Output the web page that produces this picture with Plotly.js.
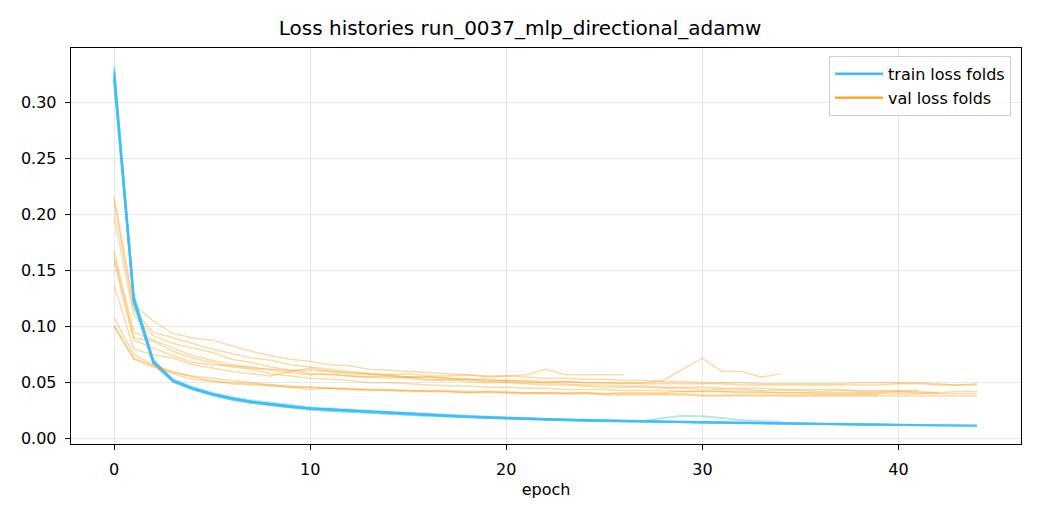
<!DOCTYPE html>
<html>
<head>
<meta charset="utf-8">
<script src="https://cdn.plot.ly/plotly-3.0.1.min.js"></script>
<style>
  html, body { margin: 0; padding: 0; background: #fff; }
  #chart { width: 1040px; height: 520px; }
</style>
</head>
<body>
<div id="chart"></div>
<script>
// train loss per fold (index = epoch)
const trainFold0 = [0.333, 0.128, 0.070, 0.053, 0.046, 0.041, 0.037, 0.034, 0.032, 0.030, 0.028, 0.027, 0.026, 0.025, 0.024, 0.023, 0.022, 0.021, 0.0205, 0.0197, 0.0188, 0.0182, 0.0177, 0.0172, 0.0168, 0.0164, 0.0161, 0.0157, 0.0154, 0.0151, 0.0148, 0.0145, 0.0142, 0.0140, 0.0138, 0.0135, 0.0133, 0.0131, 0.0129, 0.0127, 0.0125, 0.0123, 0.0121, 0.0119, 0.0117];
const trainFold1 = [0.322, 0.124, 0.068, 0.051, 0.044, 0.039, 0.035, 0.032, 0.030, 0.028, 0.027, 0.026, 0.025, 0.024, 0.023, 0.022, 0.021, 0.020, 0.0194, 0.0187, 0.018, 0.0175, 0.017, 0.0166, 0.0162, 0.0158, 0.0155, 0.0152, 0.0149, 0.0146, 0.0143, 0.0141, 0.0138, 0.0136, 0.0134, 0.0132, 0.013, 0.0128, 0.0126, 0.0124, 0.0122, 0.012];
const trainFold2 = [0.328, 0.126, 0.069, 0.052, 0.045, 0.040, 0.036, 0.033, 0.031, 0.029, 0.027, 0.026, 0.025, 0.024, 0.023, 0.022, 0.0215, 0.0207, 0.0199, 0.0192, 0.0185, 0.0179, 0.0174, 0.017, 0.0166, 0.0162, 0.0158, 0.0155, 0.0152, 0.0149, 0.0146, 0.0143, 0.0141, 0.0139, 0.0136, 0.0134, 0.0132, 0.013, 0.0128, 0.0126, 0.0124, 0.0122, 0.012, 0.0118, 0.0116];
const trainFold3 = [0.319, 0.121, 0.067, 0.051, 0.044, 0.039, 0.035, 0.032, 0.030, 0.028, 0.026, 0.025, 0.024, 0.023, 0.022, 0.021, 0.0204, 0.0197, 0.019, 0.0184, 0.0178, 0.0173, 0.0168, 0.0164, 0.016, 0.0157, 0.0154, 0.0158, 0.0185, 0.0205, 0.0200, 0.0185, 0.0165, 0.0155, 0.015];
const trainFold4 = [0.330, 0.127, 0.070, 0.052, 0.045, 0.040, 0.036, 0.033, 0.031, 0.029, 0.027, 0.026, 0.025, 0.024, 0.023, 0.022, 0.021, 0.0203, 0.0196, 0.0189, 0.0182, 0.0176, 0.0171, 0.0167, 0.0163, 0.0159, 0.0156, 0.0153, 0.015, 0.0147, 0.0144, 0.0142, 0.0139, 0.0137, 0.0135, 0.0133, 0.0131, 0.0129, 0.0127, 0.0125, 0.0123, 0.0121, 0.0119, 0.0117, 0.0115];
const trainFold5 = [0.324, 0.125, 0.069, 0.052, 0.045, 0.040, 0.036, 0.033, 0.031, 0.029, 0.027, 0.026, 0.025, 0.024, 0.023, 0.022, 0.0213, 0.0205, 0.0198, 0.0191, 0.0184, 0.0178, 0.0173, 0.0169, 0.0165, 0.0161, 0.0158];
const trainFold6 = [0.326, 0.123, 0.068, 0.052, 0.045, 0.040, 0.036, 0.033, 0.030, 0.028, 0.027, 0.026, 0.025, 0.024, 0.023, 0.022, 0.0212, 0.0204, 0.0196, 0.0189, 0.0183, 0.0177, 0.0172, 0.0168, 0.0163, 0.0159, 0.0156, 0.0153, 0.015, 0.0147, 0.0144, 0.0141, 0.0139, 0.0137, 0.0135, 0.0133, 0.0131, 0.0129, 0.0127, 0.0125, 0.0123, 0.0121, 0.0119, 0.0117, 0.0115];
const trainFold7 = [0.321, 0.122, 0.067, 0.051, 0.044, 0.039, 0.035, 0.032, 0.030, 0.028, 0.026, 0.025, 0.024, 0.023, 0.022, 0.021, 0.0205, 0.0198, 0.0191, 0.0185, 0.0179, 0.0174, 0.0169, 0.0165, 0.0161, 0.0158, 0.0155, 0.0152, 0.0149, 0.0146, 0.0143, 0.0141, 0.0138, 0.0136, 0.0134, 0.0132, 0.013, 0.0128, 0.0126, 0.0124];
const trainFold8 = [0.327, 0.126, 0.069, 0.052, 0.045, 0.040, 0.036, 0.033, 0.031, 0.029, 0.027, 0.026, 0.025, 0.024, 0.023, 0.022, 0.0214, 0.0206, 0.0198, 0.0191, 0.0184, 0.0178, 0.0173, 0.0169, 0.0165, 0.0161, 0.0157, 0.0154, 0.0151, 0.0148, 0.0145, 0.0143, 0.014, 0.0138, 0.0136, 0.0134, 0.0132, 0.013, 0.0128, 0.0126, 0.0124, 0.0122, 0.012, 0.0118, 0.0116];
const trainFold9 = [0.323, 0.124, 0.068, 0.052, 0.045, 0.040, 0.036, 0.033, 0.031, 0.029, 0.027, 0.026, 0.025, 0.024, 0.023, 0.022, 0.0211, 0.0203, 0.0196, 0.0189, 0.0182, 0.0176, 0.0171, 0.0167, 0.0163, 0.0159, 0.0156, 0.0153, 0.015, 0.0147, 0.0144, 0.0142, 0.0139, 0.0137, 0.0135, 0.0133, 0.0131, 0.0129, 0.0127, 0.0125, 0.0123, 0.0121, 0.0119];

// val loss per fold
const valFold0 = [0.216, 0.120, 0.105, 0.094, 0.090, 0.088, 0.083, 0.078, 0.074, 0.071, 0.069, 0.066, 0.065, 0.062, 0.061, 0.060, 0.059, 0.058, 0.057, 0.056, 0.056, 0.055, 0.054, 0.054, 0.053, 0.053, 0.052, 0.052, 0.051, 0.051, 0.050, 0.050, 0.050, 0.049, 0.049, 0.049, 0.049, 0.049, 0.050, 0.050, 0.050, 0.050, 0.049, 0.048, 0.049];
const valFold1 = [0.211, 0.115, 0.095, 0.090, 0.085, 0.080, 0.076, 0.072, 0.070, 0.066, 0.064, 0.062, 0.060, 0.058, 0.057, 0.055, 0.055, 0.054, 0.053, 0.052, 0.051, 0.050, 0.050, 0.049, 0.048, 0.048, 0.047, 0.047, 0.046, 0.046, 0.046, 0.045, 0.045, 0.045, 0.044, 0.044, 0.044, 0.044, 0.043, 0.043, 0.043, 0.043];
const valFold2 = [0.198, 0.110, 0.092, 0.085, 0.081, 0.077, 0.071, 0.068, 0.064, 0.061, 0.058, 0.057, 0.056, 0.055, 0.056, 0.054, 0.052, 0.053, 0.051, 0.050, 0.050, 0.049, 0.048, 0.048, 0.047, 0.046, 0.046, 0.046, 0.045, 0.045, 0.044, 0.044, 0.044, 0.043, 0.043, 0.043, 0.042, 0.043, 0.042, 0.042, 0.042, 0.042, 0.041, 0.042, 0.042];
const valFold3 = [0.168, 0.095, 0.088, 0.081, 0.074, 0.070, 0.066, 0.064, 0.061, 0.059, 0.057, 0.058, 0.056, 0.055, 0.054, 0.055, 0.053, 0.052, 0.053, 0.051, 0.052, 0.051, 0.050, 0.051, 0.050, 0.050, 0.049, 0.050, 0.052, 0.062, 0.072, 0.060, 0.060, 0.055, 0.058];
const valFold4 = [0.162, 0.090, 0.087, 0.078, 0.072, 0.068, 0.064, 0.062, 0.058, 0.056, 0.054, 0.053, 0.052, 0.050, 0.050, 0.049, 0.048, 0.047, 0.047, 0.046, 0.046, 0.045, 0.045, 0.044, 0.044, 0.044, 0.043, 0.043, 0.043, 0.042, 0.042, 0.042, 0.041, 0.041, 0.041, 0.041, 0.040, 0.040, 0.040, 0.040, 0.040, 0.040, 0.040, 0.040, 0.040];
const valFold5 = [0.159, 0.088, 0.081, 0.074, 0.068, 0.066, 0.065, 0.063, 0.062, 0.061, 0.061, 0.060, 0.059, 0.058, 0.057, 0.058, 0.056, 0.056, 0.057, 0.055, 0.056, 0.057, 0.062, 0.057, 0.057, 0.057, 0.057];
const valFold6 = [0.137, 0.080, 0.075, 0.072, 0.066, 0.063, 0.060, 0.058, 0.056, 0.060, 0.063, 0.060, 0.058, 0.057, 0.056, 0.055, 0.055, 0.054, 0.053, 0.053, 0.052, 0.052, 0.051, 0.051, 0.050, 0.050, 0.050, 0.049, 0.049, 0.049, 0.049, 0.049, 0.048, 0.048, 0.048, 0.048, 0.048, 0.048, 0.048, 0.048, 0.049, 0.049, 0.048, 0.048, 0.048];
const valFold7 = [0.108, 0.075, 0.066, 0.060, 0.055, 0.052, 0.050, 0.049, 0.048, 0.047, 0.046, 0.045, 0.045, 0.044, 0.044, 0.043, 0.043, 0.043, 0.042, 0.042, 0.042, 0.041, 0.041, 0.041, 0.041, 0.040, 0.040, 0.040, 0.040, 0.040, 0.039, 0.039, 0.039, 0.039, 0.039, 0.039, 0.039, 0.039, 0.039, 0.039];
const valFold8 = [0.101, 0.072, 0.065, 0.058, 0.053, 0.051, 0.049, 0.048, 0.047, 0.046, 0.046, 0.045, 0.044, 0.044, 0.043, 0.043, 0.042, 0.042, 0.041, 0.041, 0.041, 0.040, 0.040, 0.040, 0.040, 0.039, 0.039, 0.039, 0.039, 0.039, 0.038, 0.038, 0.038, 0.038, 0.038, 0.038, 0.038, 0.038, 0.038, 0.038, 0.038, 0.038, 0.038, 0.038, 0.038];
const valFold9 = [0.100, 0.071, 0.064, 0.059, 0.056, 0.054, 0.052, 0.050, 0.048, 0.046, 0.044, 0.045, 0.044, 0.043, 0.043, 0.042, 0.042, 0.042, 0.041, 0.042, 0.041, 0.041, 0.041, 0.040, 0.041, 0.040, 0.041, 0.041, 0.041, 0.042, 0.042, 0.042, 0.042, 0.042, 0.041, 0.041, 0.041, 0.041, 0.041, 0.041, 0.042, 0.041, 0.041];

const trainFolds = [trainFold0, trainFold1, trainFold2, trainFold3, trainFold4, trainFold5, trainFold6, trainFold7, trainFold8, trainFold9];
const valFolds = [valFold0, valFold1, valFold2, valFold3, valFold4, valFold5, valFold6, valFold7, valFold8, valFold9];

const TRAIN_COLOR = 'rgb(60,190,245)';
const VAL_COLOR = 'rgb(250,165,20)';
const FONT = 'DejaVu Sans, sans-serif';

const epochs = arr => arr.map((_, i) => i);

let traces = [];
trainFolds.forEach((tr, i) => {
  traces.push({
    x: epochs(tr), y: tr, mode: 'lines', showlegend: false, hoverinfo: 'skip',
    line: { color: 'rgba(60,190,245,0.4)', width: 2 }
  });
  const va = valFolds[i];
  traces.push({
    x: epochs(va), y: va, mode: 'lines', showlegend: false, hoverinfo: 'skip',
    line: { color: 'rgba(245,160,30,0.38)', width: 1.5 }
  });
});

// legend-only handles
traces.push({ x: [null], y: [null], mode: 'lines', name: 'train loss folds', line: { color: TRAIN_COLOR, width: 2.4 } });
traces.push({ x: [null], y: [null], mode: 'lines', name: 'val loss folds', line: { color: VAL_COLOR, width: 2.4 } });

const axisBase = {
  showline: true, mirror: true, linecolor: '#000', linewidth: 1.3,
  ticks: 'outside', ticklen: 5, tickwidth: 1.2, tickcolor: '#000',
  ticklabelstandoff: 5,
  gridcolor: 'rgba(0,0,0,0.09)', gridwidth: 1, zeroline: false,
  tickfont: { family: FONT, size: 16, color: '#000' }
};

const layout = {
  width: 1040, height: 520,
  paper_bgcolor: '#fff', plot_bgcolor: '#fff',
  margin: { l: 71, r: 19, t: 48, b: 76 },
  title: { text: 'Loss histories run_0037_mlp_directional_adamw', x: 0.5, xanchor: 'center', y: 0.947, yanchor: 'middle', font: { family: FONT, size: 20, color: '#000' } },
  xaxis: Object.assign({}, axisBase, {
    range: [-2.2, 46.25], tickvals: [0, 10, 20, 30, 40],
    title: { text: 'epoch', standoff: 6, font: { family: FONT, size: 16, color: '#000' } }
  }),
  yaxis: Object.assign({}, axisBase, {
    range: [-0.0048, 0.349], tickvals: [0, 0.05, 0.1, 0.15, 0.2, 0.25, 0.3], tickformat: '.2f'
  }),
  legend: {
    x: 0.9895, y: 0.98, xanchor: 'right', yanchor: 'top',
    itemwidth: 48,
    bgcolor: 'rgba(255,255,255,0.8)', bordercolor: '#d0d0d0', borderwidth: 1,
    font: { family: FONT, size: 16, color: '#000' }
  },
  showlegend: true
};

Plotly.newPlot('chart', traces, layout, { displayModeBar: false, staticPlot: true });
</script>
</body>
</html>
